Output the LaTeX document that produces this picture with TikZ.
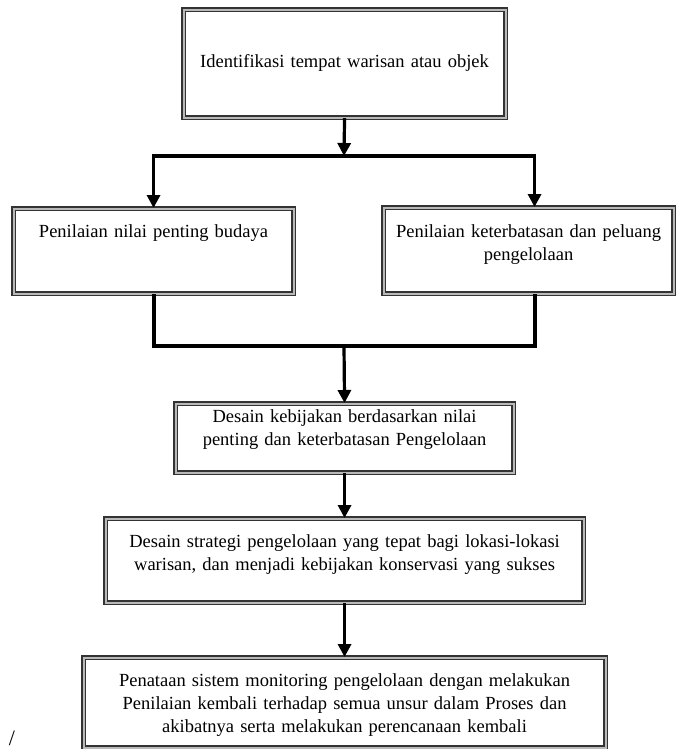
\documentclass[tikz,border=0pt]{standalone}
\usepackage{fontspec}
\setmainfont{Liberation Serif}
\usetikzlibrary{positioning, calc, arrows.meta}

\begin{document}
\begin{tikzpicture}[x=1pt, y=-1pt,
        flowbox/.style={draw=black!80, double=gray!55, line width=1.1pt, double distance=2pt,
            anchor=north west, inner xsep=0pt, inner ysep=0pt, align=center,
            font=\fontsize{18.5}{23}\selectfont, text=black},
        arrow/.style={line width=3.2pt, -{Triangle[width=13pt, length=13pt]}},
        joinline/.style={line width=4pt}
    ]
    \useasboundingbox (0,0) rectangle (676,749);

    \node[flowbox, text width=322pt, text height=58pt, text depth=50pt] (ident) at (183,9) {Identifikasi tempat warisan atau objek};

    \node[flowbox, text width=280pt, text height=29pt, text depth=56pt] (budaya) at (13,208) {Penilaian nilai penting budaya};
    \node[flowbox, text width=290pt, text height=30pt, text depth=56pt] (peluang) at (383,207) {Penilaian keterbatasan dan peluang\\ pengelolaan};

    \node[flowbox, text width=338pt, text height=19pt, text depth=50pt] (kebijakan) at (175,403) {Desain kebijakan berdasarkan nilai\\ penting dan keterbatasan Pengelolaan};
    \node[flowbox, text width=478pt, text height=29pt, text depth=55pt] (strategi) at (105,518) {Desain strategi pengelolaan yang tepat bagi lokasi-lokasi\\ warisan, dan menjadi kebijakan konservasi yang sukses};
    \node[flowbox, text width=522pt, text height=29pt, text depth=61pt] (monitor) at (83,657) {Penataan sistem monitoring pengelolaan dengan melakukan\\ Penilaian kembali terhadap semua unsur dalam Proses dan\\ akibatnya serta melakukan perencanaan kembali};

    \node[font=\fontsize{22}{22}\selectfont, inner sep=0pt] (slash) at (12,738) {/};

    \coordinate (split) at (344,156);
    \coordinate (merge) at (344,346);

    \draw[arrow] (ident.south) -- (split);
    \draw[arrow] (split) -| (budaya.north);
    \draw[arrow] (split) -| ([xshift=6pt]peluang.north);

    \draw[joinline] (budaya.south) |- (merge) -| ([xshift=6pt]peluang.south);
    \draw[arrow] (merge) -- (kebijakan.north);

    \draw[arrow] (kebijakan.south) -- (strategi.north);
    \draw[arrow] (strategi.south) -- (monitor.north);

\end{tikzpicture}
\end{document}
